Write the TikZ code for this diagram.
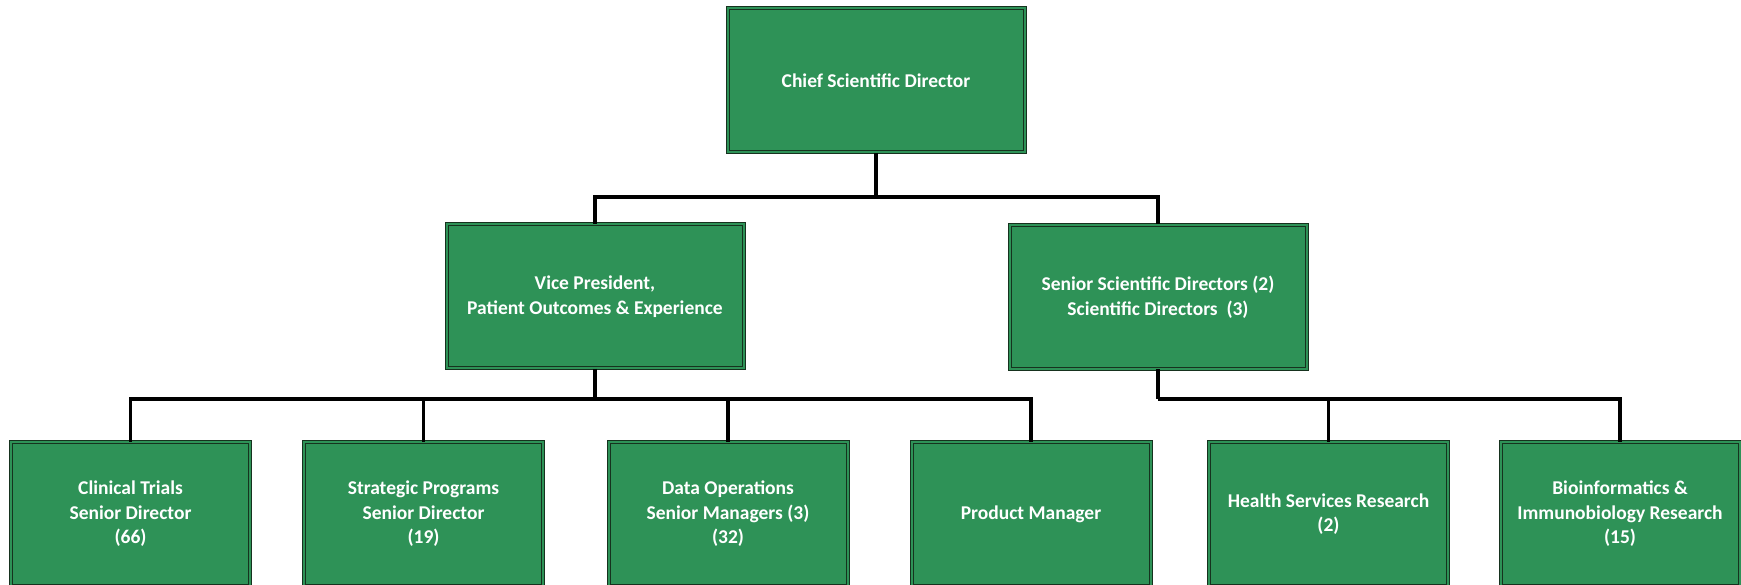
\documentclass[tikz,border=0pt]{standalone}
\usepackage{fontspec}
\setmainfont{Carlito}
\definecolor{boxgreen}{RGB}{46,146,87}
\definecolor{boxedge}{RGB}{22,50,30}
\begin{document}
\begin{tikzpicture}[x=1pt,y=-1pt,
    every node/.style={rectangle, draw=boxedge, line width=1pt, double=boxgreen, double distance=2pt,
      fill=boxgreen, text=white, font=\fontsize{19.5}{24.5}\selectfont\bfseries, align=center,
      inner sep=0pt},
    big/.style={minimum width=297pt, minimum height=144pt},
    small/.style={minimum width=239pt, minimum height=144pt},
    link/.style={line width=3.8pt}]
      \useasboundingbox (0,0) rectangle (1741,585);

      \node[big] (chief) at (876,80.5) {Chief Scientific Director};
      \node[big] (vp) at (595,296.5) {Vice President,\\Patient Outcomes \& Experience};
      \node[big] (ssd) at (1158,297) {Senior Scientific Directors (2)\\Scientific Directors~ (3)};

      \node[small] (trials) at (130.5,514) {Clinical Trials\\Senior Director\\(66)};
      \node[small] (strat) at (423.5,514) {Strategic Programs\\Senior Director\\(19)};
      \node[small] (data) at (728,514) {Data Operations\\Senior Managers (3)\\(32)};
      \node[small] (prod) at (1031,514) {Product Manager};
      \node[small] (hsr) at (1328.5,514) {Health Services Research\\(2)};
      \node[small] (bio) at (1620,514) {Bioinformatics \&\\Immunobiology Research\\(15)};

      \coordinate (topbar) at (876,197);
      \coordinate (vpbar) at (595,399);
      \coordinate (ssdbar) at (1158,399);

      \draw[link] (chief.south) -- (topbar);
      \draw[link] (vp.north) |- (topbar) -| (ssd.north);
      \draw[link] (vp.south) -- (vpbar);
      \draw[link] (trials.north) |- (vpbar) -| (prod.north);
      \draw[link] (strat.north) -- (strat.north |- vpbar);
      \draw[link] (data.north) -- (data.north |- vpbar);
      \draw[link] (ssd.south) -- (ssdbar);
      \draw[link] (hsr.north) |- (ssdbar) -| (bio.north);
    \end{tikzpicture}
\end{document}
